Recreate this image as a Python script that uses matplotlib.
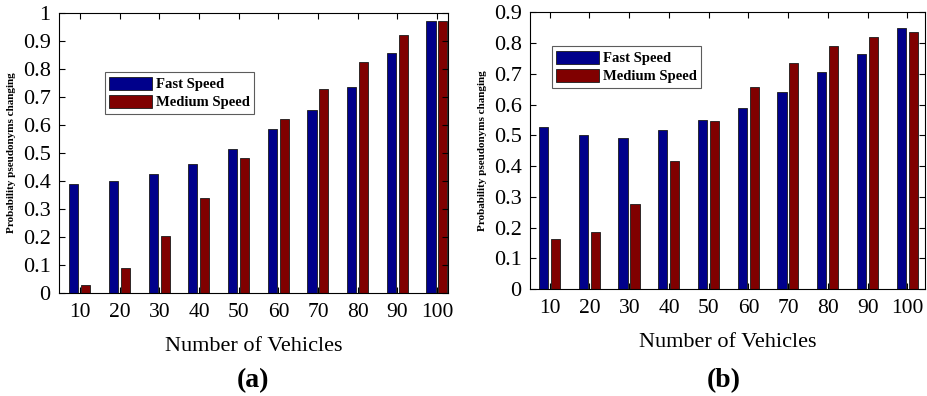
import matplotlib
matplotlib.use("Agg")
import matplotlib.pyplot as plt
import numpy as np

categories = ["10", "20", "30", "40", "50", "60", "70", "80", "90", "100"]
fast_a = [0.390, 0.400, 0.425, 0.462, 0.513, 0.585, 0.655, 0.737, 0.856, 0.973]
medium_a = [0.029, 0.089, 0.204, 0.341, 0.481, 0.622, 0.730, 0.825, 0.923, 0.973]
fast_b = [0.528, 0.500, 0.491, 0.517, 0.549, 0.589, 0.642, 0.705, 0.764, 0.850]
medium_b = [0.163, 0.184, 0.277, 0.418, 0.545, 0.658, 0.736, 0.789, 0.818, 0.835]
yticks_a = [0, 0.1, 0.2, 0.3, 0.4, 0.5, 0.6, 0.7, 0.8, 0.9, 1.0]
yticks_b = [0, 0.1, 0.2, 0.3, 0.4, 0.5, 0.6, 0.7, 0.8, 0.9]

plt.rcParams['font.family'] = ['Liberation Serif', 'DejaVu Serif']

BLUE = '#00008B'
RED = '#800000'

fig = plt.figure(figsize=(9.28, 3.96), dpi=100)

def fmt(t):
    if t == 0:
        return '0'
    if t == 1:
        return '1'
    return f'{t:.1f}'

def panel(rect, fast, medium, ymax, yticks, xlim, legend_anchor, label, label_x):
    ax = fig.add_axes(rect)
    x = np.arange(1, len(categories) + 1)
    w = 0.23
    ax.bar(x - 0.155, fast, width=w, color=BLUE, edgecolor='#1a1a1a', linewidth=0.6, label='Fast Speed')
    ax.bar(x + 0.145, medium, width=w, color=RED, edgecolor='#1a1a1a', linewidth=0.6, label='Medium Speed')
    ax.set_xlim(*xlim)
    ax.set_ylim(0, ymax)
    ax.set_xticks(x)
    ax.set_xticklabels(categories)
    ax.set_yticks(yticks)
    ax.set_yticklabels([fmt(t) for t in yticks])
    ax.tick_params(direction='in', top=True, right=True, labelsize=16, length=4, width=0.8)
    ax.tick_params(axis='x', pad=7, labelsize=15.5)
    ax.tick_params(axis='y', pad=6)
    for s in ax.spines.values():
        s.set_linewidth(0.8)
    ax.set_ylabel('Probability pseudonyms changing', fontsize=8, fontweight='bold', labelpad=5)
    ax.set_xlabel('Number of Vehicles', fontsize=16, labelpad=11)
    leg = ax.legend(loc='upper left', bbox_to_anchor=legend_anchor, frameon=True, fancybox=False,
                    edgecolor='#333333', prop={'weight': 'bold', 'size': 10.5},
                    handlelength=2.9, handleheight=1.0, handletextpad=0.3, borderpad=0.3,
                    labelspacing=0.25, borderaxespad=0)
    leg.get_frame().set_linewidth(0.8)
    fig.text(label_x, 0.04, label, fontsize=20, fontweight='bold', ha='center', va='center')
    return ax

panel([0.0636, 0.260, 0.4194, 0.707], fast_a, medium_a, 1.0,
      yticks_a, (0.47, 10.28), (0.118, 0.789), '(a)', 0.273)
panel([0.571, 0.270, 0.426, 0.699], fast_b, medium_b, 0.9,
      yticks_b, (0.5, 10.45), (0.056, 0.877), '(b)', 0.78)

fig.savefig('out.png', dpi=100)
